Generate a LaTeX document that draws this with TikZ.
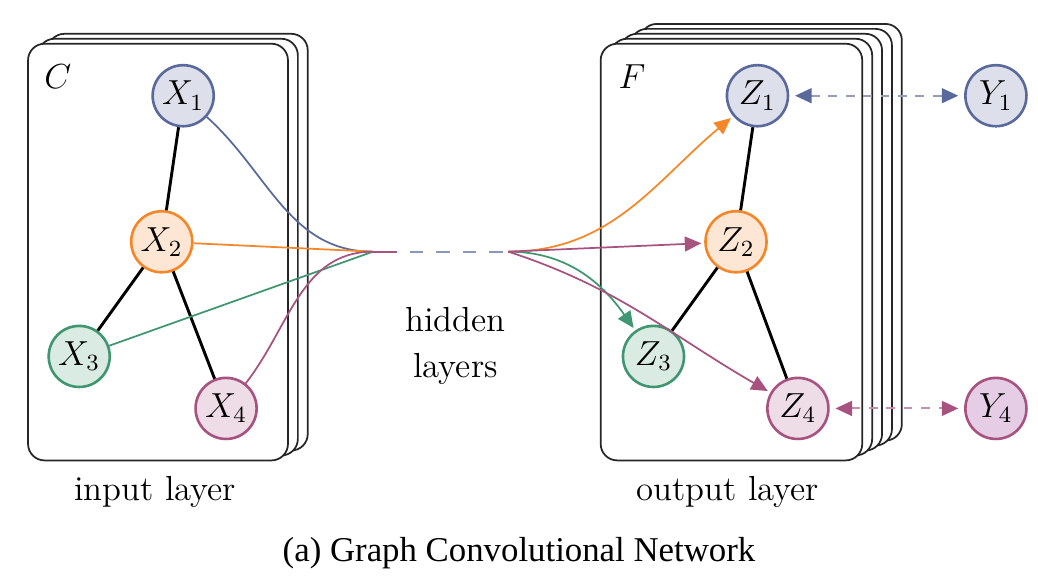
\documentclass[tikz,border=0pt]{standalone}
\usepackage{amsmath}
\usepackage{fontspec}
\usetikzlibrary{arrows.meta}
\newfontfamily\capfont{Liberation Serif}
\definecolor{nblue}{RGB}{90,105,155}
\definecolor{nbluefill}{RGB}{221,224,234}
\definecolor{norange}{RGB}{245,135,40}
\definecolor{norangefill}{RGB}{253,230,212}
\definecolor{ngreen}{RGB}{64,150,112}
\definecolor{ngreenfill}{RGB}{217,235,226}
\definecolor{npurple}{RGB}{168,82,128}
\definecolor{npurplefill}{RGB}{238,220,230}
\definecolor{nlilacfill}{RGB}{229,205,230}

\begin{document}
\begin{tikzpicture}[x=1cm,y=1cm,
  card/.style={draw=black!85,fill=white,line width=0.6pt,rounded corners=0.2cm},
  vert/.style={circle,line width=0.9pt,minimum size=0.74cm,inner sep=0pt,font=\large},
  bluev/.style={vert,draw=nblue,fill=nbluefill},
  orangev/.style={vert,draw=norange,fill=norangefill},
  greenv/.style={vert,draw=ngreen,fill=ngreenfill},
  purplev/.style={vert,draw=npurple,fill=npurplefill},
  lilacv/.style={vert,draw=npurple,fill=nlilacfill},
  gedge/.style={line width=1pt},
  flow/.style={line width=0.6pt},
  tip/.style={-{Triangle[length=0.2cm,width=0.18cm]},shorten >=1pt},
  target/.style={dashed,line width=0.7pt,shorten <=2pt,shorten >=2pt,
    {Triangle[length=0.2cm,width=0.18cm,color=#1]}-{Triangle[length=0.2cm,width=0.18cm,color=#1]},draw=#1!65}]
\useasboundingbox (0,0) rectangle (12.58,-7.08);

% input layer cards
\foreach \i in {2,1}
  \draw[card,xshift=\i*0.12cm,yshift=\i*0.06cm] (0.34,-0.53) rectangle (3.49,-5.58);
\draw[card] (0.34,-0.53) rectangle (3.49,-5.58);
\node (C) at (0.70,-0.93) {\large $C$};

% output layer cards
\foreach \i in {4,3,2,1}
  \draw[card,xshift=\i*0.12cm,yshift=\i*0.06cm] (7.28,-0.53) rectangle (10.45,-5.58);
\draw[card] (7.28,-0.53) rectangle (10.45,-5.58);
\node (F) at (7.66,-0.93) {\large $F$};

% input graph
\node[bluev] (X1) at (2.22,-1.16) {$X_1$};
\node[orangev] (X2) at (1.96,-2.93) {$X_2$};
\node[greenv] (X3) at (0.96,-4.32) {$X_3$};
\node[purplev] (X4) at (2.74,-4.95) {$X_4$};
\draw[gedge] (X1) -- (X2);
\draw[gedge] (X2) -- (X3);
\draw[gedge] (X2) -- (X4);

% output graph
\node[bluev] (Z1) at (9.18,-1.16) {$Z_1$};
\node[orangev] (Z2) at (8.92,-2.93) {$Z_2$};
\node[greenv] (Z3) at (7.92,-4.32) {$Z_3$};
\node[purplev] (Z4) at (9.67,-4.95) {$Z_4$};
\draw[gedge] (Z1) -- (Z2);
\draw[gedge] (Z2) -- (Z3);
\draw[gedge] (Z2) -- (Z4);

% labels
\node[bluev] (Y1) at (12.07,-1.16) {$Y_1$};
\node[lilacv] (Y4) at (12.07,-4.95) {$Y_4$};
\draw[target=nblue] (Z1) -- (Y1);
\draw[target=npurple] (Z4) -- (Y4);

% hidden layers
\coordinate (hin) at (4.52,-3.05);
\coordinate (hmid) at (4.81,-3.05);
\coordinate (hout) at (6.16,-3.05);
\draw[flow,nblue] (X1) to[out=-42,in=180] (hin);
\draw[flow,norange] (X2) -- (hin);
\draw[flow,ngreen] (X3) -- (hin);
\draw[flow,npurple] (X4) to[out=52,in=180] (hin);
\draw[flow,npurple] (hin) -- (hmid);
\draw[flow,nblue!70,dash pattern=on 0.16cm off 0.16cm,dash phase=-0.16cm] (hmid) -- (hout);
\node[align=center,font=\large] (hidden) at (5.52,-4.19) {hidden\\[2pt]layers};

\draw[flow,norange,tip] (hout) to[out=0,in=-140] (Z1);
\draw[flow,ngreen,tip] (hout) to[out=0,in=125] (Z3);
\draw[flow,npurple,tip] (hout) to[out=-18,in=150] (Z4);
\draw[flow,npurple,tip] (hout) -- (Z2);

\node[font=\large] (inl) at (1.88,-5.96) {input layer};
\node[font=\large] (outl) at (8.82,-5.96) {output layer};
\node[font=\capfont\large] (cap) at (6.29,-6.70) {(a) Graph Convolutional Network};
\end{tikzpicture}
\end{document}
